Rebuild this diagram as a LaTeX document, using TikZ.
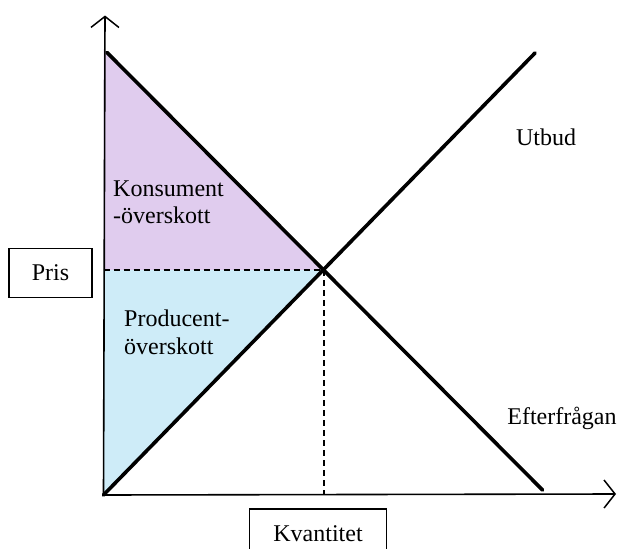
\documentclass[tikz,border=0pt]{standalone}
\usepackage{fontspec}
\setmainfont{Liberation Serif}
\usetikzlibrary{arrows.meta}
\definecolor{konsfill}{RGB}{224,204,238}
\definecolor{prodfill}{RGB}{206,236,248}
\begin{document}
\begin{tikzpicture}[x=1pt,y=-1pt,
  axis/.style={line width=1.6pt,-{Straight Barb[length=11pt,width=28pt,line width=1.5pt]}},
  curve/.style={line width=3.6pt,line cap=round},
  guide/.style={line width=1.5pt,dash pattern=on 6pt off 4pt},
  lbl/.style={font=\fontsize{24}{27.5}\selectfont,inner sep=0pt},
  box/.style={draw,line width=1.8pt,font=\fontsize{24}{27}\selectfont,inner sep=0pt}]
\useasboundingbox (0,0) rectangle (622,549);
\clip (0,0) rectangle (622,549);
% key points
\coordinate (O) at (103.5,495);
\coordinate (ytop) at (105,15.5);
\coordinate (xend) at (616,494);
\coordinate (D1) at (107,52.5);
\coordinate (D2) at (542.5,490);
\coordinate (S2) at (535,53);
\coordinate (E) at (324,270);
\coordinate (P) at (103.5,270);
\coordinate (Q) at (324,494);
\coordinate (A) at (103.5,49);
% fills
\fill[konsfill] (A) -- (D1) -- (E) -- (P) -- cycle;
\fill[prodfill] (P) -- (E) -- (O) -- cycle;
% guides
\draw[guide] (P) -- (E);
\draw[guide] (E) -- (Q);
% axes
\draw[axis] (O) -- (ytop);
\draw[axis] (O) -- (xend);
% curves
\draw[curve] (D1) -- (D2);
\draw[curve] (O) -- (S2);
% boxes
\node[box,minimum width=83pt,minimum height=49pt] (pris) at (50.5,273) {Pris};
\node[box,minimum width=137pt,minimum height=50pt] (kvant) at (318,534) {Kvantitet};
% labels
\node[lbl] (utbud) at (546,137) {Utbud};
\node[lbl] (eft) at (562,418) {Efterfrågan};
\node[lbl,anchor=west,align=left] (kons) at (113,202.5) {Konsument\\-överskott};
\node[lbl,anchor=west,align=left] (prod) at (124,332.5) {Producent-\\överskott};
\end{tikzpicture}
\end{document}
